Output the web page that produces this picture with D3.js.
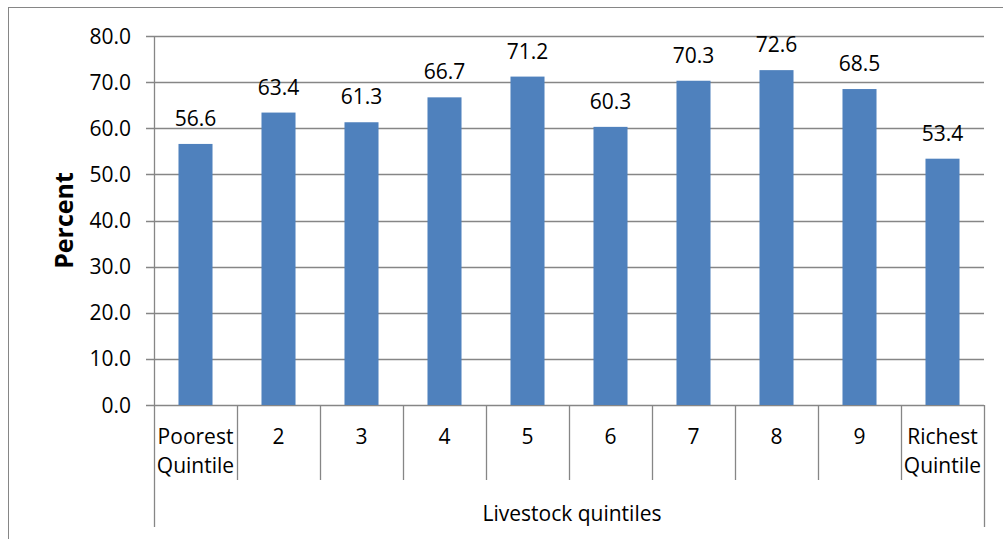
<!DOCTYPE html>
<html>
<head>
<meta charset="utf-8">
<script src="https://cdn.jsdelivr.net/npm/d3@7"></script>
<style>
  body { margin: 0; background: #fff; }
  svg { display: block; font-family: "Open Sans", sans-serif; }
</style>
</head>
<body>
<div id="chart"></div>
<script>
// data
var categories = ["Poorest\nQuintile", "2", "3", "4", "5", "6", "7", "8", "9", "Richest\nQuintile"];
var values = [56.6, 63.4, 61.3, 66.7, 71.2, 60.3, 70.3, 72.6, 68.5, 53.4];
var yTicks = [0, 10, 20, 30, 40, 50, 60, 70, 80];
var xTitle = "Livestock quintiles";
var yTitle = "Percent";

var width = 1003, height = 539;
// plot edges (note: "top" is reserved on window, so use other names)
var plotLeft = 154, plotRight = 984, plotTop = 36, plotBottom = 405;
var grey = "#868686";
var fontSize = 21;

var data = categories.map(function(c, i) { return { name: c, value: values[i] }; });

document.addEventListener('DOMContentLoaded', function () {
  draw();
}, false);

function draw() {
  var svg = d3.select("#chart").append("svg")
    .attr("width", width)
    .attr("height", height);

  // outer frame
  svg.append("rect")
    .attr("x", 8.5).attr("y", 7.5)
    .attr("width", 1010).attr("height", 560)
    .attr("fill", "none")
    .attr("stroke", grey);

  var x = d3.scaleBand()
    .domain(categories)
    .range([plotLeft, plotRight])
    .paddingInner(0.59)
    .paddingOuter(0.295);

  var y = d3.scaleLinear()
    .domain([0, 80])
    .range([plotBottom, plotTop]);

  // gridlines
  svg.selectAll("line.grid")
    .data(yTicks)
    .enter()
    .append("line")
    .attr("class", "grid")
    .attr("x1", plotLeft - 8)
    .attr("x2", plotRight)
    .attr("y1", function(d){ return Math.round(y(d)) + 0.5; })
    .attr("y2", function(d){ return Math.round(y(d)) + 0.5; })
    .attr("stroke", grey)
    .attr("stroke-width", 1.3);

  // y axis line
  svg.append("line")
    .attr("x1", plotLeft + 0.5).attr("x2", plotLeft + 0.5)
    .attr("y1", plotTop).attr("y2", plotBottom)
    .attr("stroke", grey).attr("stroke-width", 1.3);

  // y tick labels
  svg.selectAll("text.ytick")
    .data(yTicks)
    .enter()
    .append("text")
    .attr("class", "ytick")
    .attr("x", 131)
    .attr("y", function(d){ return y(d) + 7.5; })
    .attr("text-anchor", "end")
    .attr("font-size", fontSize)
    .attr("fill", "#000")
    .text(function(d){ return d.toFixed(1); });

  // bars
  svg.selectAll("rect.bar")
    .data(data)
    .enter()
    .append("rect")
    .attr("class", "bar")
    .attr("x", function(d){ return x(d.name); })
    .attr("width", x.bandwidth())
    .attr("y", function(d){ return y(d.value); })
    .attr("height", function(d){ return plotBottom - y(d.value); })
    .attr("fill", "#4F81BD");

  // value labels
  svg.selectAll("text.val")
    .data(data)
    .enter()
    .append("text")
    .attr("class", "val")
    .attr("x", function(d){ return x(d.name) + x.bandwidth() / 2; })
    .attr("y", function(d){ return y(d.value) - 18; })
    .attr("text-anchor", "middle")
    .attr("font-size", fontSize)
    .text(function(d){ return d.value.toFixed(1); });

  // category separators
  var step = x.step();
  var seps = d3.range(categories.length + 1).map(function(i){ return plotLeft + i * step; });
  svg.selectAll("line.sep")
    .data(seps)
    .enter()
    .append("line")
    .attr("class", "sep")
    .attr("x1", function(d){ return Math.round(d) + 0.5; })
    .attr("x2", function(d){ return Math.round(d) + 0.5; })
    .attr("y1", plotBottom)
    .attr("y2", function(d, i){ return (i == 0 || i == seps.length - 1) ? 527 : 480; })
    .attr("stroke", grey)
    .attr("stroke-width", 1.3);

  // category labels
  var cat = svg.selectAll("text.cat")
    .data(categories)
    .enter()
    .append("text")
    .attr("class", "cat")
    .attr("text-anchor", "middle")
    .attr("font-size", fontSize)
    .attr("y", 444);

  cat.selectAll("tspan")
    .data(function(d){ return d.split("\n").map(function(t){ return { t: t, c: d }; }); })
    .enter()
    .append("tspan")
    .attr("x", function(d){ return x(d.c) + x.bandwidth() / 2; })
    .attr("dy", function(d, i){ return i == 0 ? 0 : 29; })
    .text(function(d){ return d.t; });

  // axis titles
  svg.append("text")
    .attr("x", (plotLeft + plotRight) / 2 + 3)
    .attr("y", 521)
    .attr("text-anchor", "middle")
    .attr("font-size", fontSize)
    .text(xTitle);

  svg.append("text")
    .attr("transform", "translate(73," + ((plotTop + plotBottom) / 2) + ") rotate(-90)")
    .attr("text-anchor", "middle")
    .attr("font-size", 25)
    .attr("font-weight", "bold")
    .text(yTitle);
}
</script>
</body>
</html>
